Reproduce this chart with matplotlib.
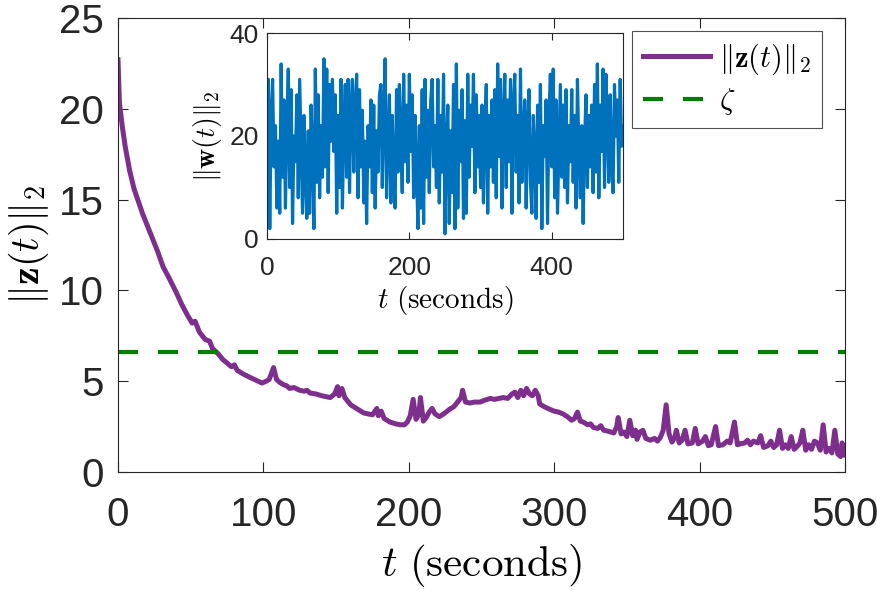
import numpy as np
import matplotlib
matplotlib.use('Agg')
import matplotlib.pyplot as plt

plt.rcParams['font.family'] = ['Liberation Sans', 'DejaVu Sans']
plt.rcParams['mathtext.fontset'] = 'cm'

# main curve ||z(t)||_2
z_t = [0, 1, 3, 5, 8, 11, 14, 17, 20, 24, 27, 31, 35, 40, 44, 48, 51, 53, 56, 60,
       63, 65, 69, 72, 75, 78, 80, 82, 86, 91, 95, 99, 102, 104, 107, 109, 111, 114, 116, 118,
       121, 125, 128, 130, 132, 136, 140, 143, 146, 149, 151, 152, 154, 156, 158, 160, 163, 166, 169, 172,
       175, 178, 179, 181, 183, 187, 191, 194, 197, 199, 201, 203, 205, 207, 208, 210, 212, 214, 216, 218,
       221, 224, 228, 231, 233, 236, 237, 239, 242, 245, 249, 252, 256, 259, 262, 265, 268, 271, 273, 275,
       277, 279, 281, 283, 285, 287, 289, 290, 293, 297, 300, 303, 306, 309, 312, 314, 316, 318, 320, 323,
       325, 327, 330, 332, 334, 337, 339, 341, 343, 344, 346, 348, 350, 351, 352, 354, 356, 357, 359, 361,
       363, 366, 369, 371, 373, 375, 377, 379, 381, 383, 384, 386, 388, 390, 392, 395, 397, 399, 402, 404,
       406, 408, 411, 413, 416, 419, 421, 424, 426, 428, 431, 433, 435, 437, 440, 442, 444, 447, 449, 451,
       453, 455, 457, 459, 461, 463, 465, 467, 469, 471, 473, 475, 477, 479, 481, 483, 485, 487, 489, 491,
       493, 495, 497, 498, 500]
z_norm = [22.7, 20.3, 19.0, 17.9, 16.6, 15.6, 14.9, 14.2, 13.6, 12.8, 12.2, 11.3, 10.7, 9.9, 9.2, 8.6, 8.2, 8.3, 7.7, 7.3,
          7.2, 6.8, 6.5, 6.2, 6.0, 5.8, 5.9, 5.6, 5.4, 5.2, 5.05, 4.9, 5.0, 5.1, 5.75, 5.1, 4.95, 4.8, 4.75, 4.6,
          4.65, 4.5, 4.45, 4.5, 4.35, 4.3, 4.2, 4.15, 4.1, 4.3, 4.7, 4.2, 4.6, 4.1, 3.9, 3.7, 3.55, 3.4, 3.25, 3.2,
          3.15, 3.5, 3.1, 3.35, 2.95, 2.75, 2.65, 2.6, 2.6, 2.75, 3.1, 4.0, 2.9, 3.2, 4.1, 2.8, 3.0, 3.3, 3.5, 3.2,
          3.05, 3.2, 3.45, 3.6, 3.8, 4.1, 4.5, 3.85, 3.8, 3.85, 3.85, 3.95, 4.05, 4.0, 4.05, 4.1, 4.05, 4.3, 4.4, 4.1,
          4.5, 4.2, 4.6, 4.3, 4.2, 4.5, 4.2, 3.75, 3.6, 3.45, 3.35, 3.3, 3.2, 3.05, 2.85, 2.95, 3.3, 2.8, 2.75, 2.6,
          2.65, 2.45, 2.4, 2.55, 2.3, 2.25, 2.2, 2.15, 2.5, 3.0, 2.1, 2.2, 1.95, 2.4, 2.85, 2.0, 2.3, 1.8, 2.2, 2.3,
          1.85, 1.75, 1.85, 1.7, 1.9, 2.3, 3.7, 2.1, 1.65, 1.9, 2.3, 1.6, 1.75, 2.3, 1.55, 1.6, 2.4, 1.55, 1.7, 1.95,
          1.45, 1.5, 2.5, 1.45, 1.5, 1.7, 1.6, 2.75, 1.5, 1.55, 1.6, 1.75, 1.5, 1.7, 1.6, 2.0, 1.35, 1.45, 1.7, 1.35,
          1.5, 2.3, 1.3, 1.5, 1.3, 1.95, 1.25, 1.4, 1.6, 2.3, 1.2, 1.5, 1.25, 1.7, 1.6, 1.2, 2.6, 1.1, 1.3, 1.05,
          2.3, 1.0, 0.85, 1.6, 0.95]

zeta = 6.6

# disturbance ||w(t)||_2, one value every 2 s
w_t = list(range(0, 502, 2))
w_norm = [8, 31, 2, 24, 31, 14, 22, 6, 19, 5,
          34, 12, 27, 6, 22, 33, 10, 29, 3, 20,
          15, 28, 8, 31, 18, 5, 24, 12, 4, 21,
          5, 26, 16, 2, 33, 11, 28, 8, 22, 12,
          35, 14, 33, 9, 30, 19, 31, 17, 28, 5,
          24, 10, 31, 6, 21, 30, 12, 31, 9, 25,
          31, 13, 26, 32, 8, 29, 14, 25, 7, 19,
          3, 22, 14, 27, 9, 26, 6, 21, 13, 28,
          30, 10, 25, 35, 8, 19, 28, 7, 24, 12,
          6, 29, 13, 30, 20, 9, 32, 15, 26, 11,
          32, 17, 28, 8, 24, 14, 2, 22, 6, 29,
          3, 31, 12, 25, 9, 27, 31, 14, 22, 10,
          31, 7, 24, 13, 32, 1, 18, 26, 3, 21,
          9, 30, 2, 34, 6, 25, 15, 29, 4, 23,
          5, 32, 12, 26, 18, 32, 9, 28, 14, 24,
          10, 26, 7, 22, 30, 5, 24, 14, 27, 11,
          29, 8, 34, 16, 31, 6, 23, 32, 10, 27,
          15, 31, 5, 26, 32, 13, 24, 7, 33, 11,
          20, 27, 6, 22, 29, 11, 5, 24, 17, 4,
          26, 11, 30, 2, 22, 16, 27, 3, 24, 32,
          14, 33, 8, 27, 5, 18, 30, 12, 26, 10,
          29, 7, 22, 15, 29, 11, 24, 6, 31, 17,
          8, 22, 3, 19, 28, 10, 24, 14, 26, 9,
          30, 13, 34, 8, 26, 17, 33, 10, 32, 23,
          11, 28, 16, 9, 30, 20, 27, 11, 31, 18,
          22]

axis_col = '#262626'

fig = plt.figure(figsize=(8.78, 5.9), dpi=100)
ax = fig.add_axes([0.1344, 0.2, 0.828, 0.7695])

ax.plot(z_t, z_norm, color='#7E2F8E', lw=3.6, label=r'$\Vert\mathbf{z}(t)\Vert_2$')
ax.axhline(zeta, color='#008000', lw=3, dashes=(4.8, 4.8), label=r'$\zeta$')

ax.set_xlim(0, 500)
ax.set_ylim(0, 25)
ax.set_xticks(np.arange(0, 501, 100))
ax.set_yticks(np.arange(0, 26, 5))
ax.tick_params(direction='in', length=7, width=0.8, colors=axis_col,
               labelsize=29, top=True, right=True)
ax.tick_params(axis='x', pad=17)
ax.tick_params(axis='y', pad=10)
for s in ax.spines.values():
    s.set_color(axis_col)
    s.set_linewidth(0.8)
ax.set_xlabel(r'$t\ \mathrm{(seconds)}$', fontsize=31, labelpad=6)
ax.set_ylabel(r'$\Vert\mathbf{z}(t)\Vert_2$', fontsize=29, labelpad=6)

leg = ax.legend(loc='upper right', bbox_to_anchor=(822 / 878, 1 - 31 / 590),
                bbox_transform=fig.transFigure, borderaxespad=0, fontsize=22,
                frameon=True, fancybox=False, edgecolor=axis_col,
                handlelength=2.2, labelspacing=0.3, borderpad=0.35, handletextpad=0.3)
leg.get_frame().set_linewidth(0.8)

# inset with the disturbance
ins = fig.add_axes([0.304, 0.595, 0.4056, 0.349])
ins.plot(w_t, w_norm, color='#0072BD', lw=2.3)
ins.set_xlim(0, 500)
ins.set_ylim(0, 40)
ins.set_xticks([0, 200, 400])
ins.set_yticks([0, 20, 40])
ins.tick_params(direction='in', length=5, width=0.8, colors=axis_col,
                labelsize=19, top=True, right=True)
ins.tick_params(axis='x', pad=12)
ins.tick_params(axis='y', pad=6)
for s in ins.spines.values():
    s.set_color(axis_col)
    s.set_linewidth(0.8)
ins.set_xlabel(r'$t\ \mathrm{(seconds)}$', fontsize=21, labelpad=3)
ins.set_ylabel(r'$\Vert\mathbf{w}(t)\Vert_2$', fontsize=20, labelpad=4)

fig.savefig('out.png', dpi=100)
